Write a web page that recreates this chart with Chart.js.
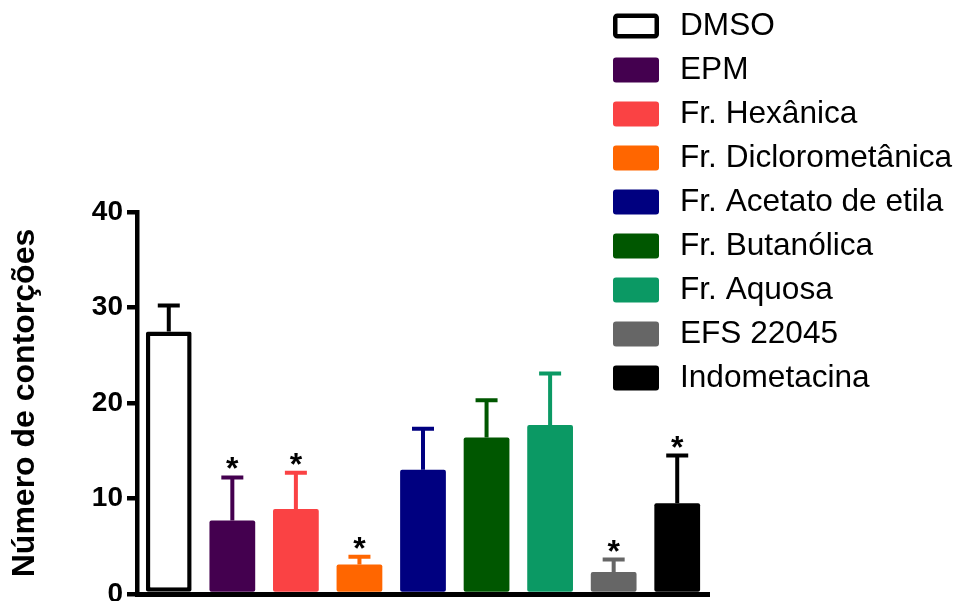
<!DOCTYPE html>
<html lang="pt">
<head>
<meta charset="utf-8">
<title>Número de contorções</title>
<script src="https://cdn.jsdelivr.net/npm/chart.js@4.4.1/dist/chart.umd.min.js"></script>
<style>
  html, body { margin: 0; padding: 0; background: #ffffff; }
  canvas { display: block; }
</style>
</head>
<body>
<canvas id="chart" width="957" height="601"></canvas>
<script>
// Grupos tratados e número médio de contorções (média ± EPM)
const groups = ['DMSO', 'EPM', 'Fr. Hexânica', 'Fr. Diclorometânica', 'Fr. Acetato de etila',
                'Fr. Butanólica', 'Fr. Aquosa', 'EFS 22045', 'Indometacina'];
const meanWrithes = [27.5, 7.7, 8.9, 3.1, 13.0, 16.4, 17.7, 2.3, 9.5];
const semWrithes  = [2.7, 4.5, 3.8, 0.8, 4.3, 3.9, 5.4, 1.3, 5.0];
const significant = [false, true, true, true, false, false, false, true, true];
const yTicks = [0, 10, 20, 30, 40];

const fillColors = ['#ffffff', '#44004f', '#fa4244', '#ff6600', '#000080',
                    '#005700', '#0b9964', '#666666', '#000000'];
const lineColors = ['#000000', '#44004f', '#fa4244', '#ff6600', '#000080',
                    '#005700', '#0b9964', '#666666', '#000000'];

const FONT = "'Liberation Sans', Arial, Helvetica, sans-serif";

// Barras de erro (apenas para cima) e asteriscos de significância
const errorBars = {
  id: 'errorBars',
  afterDatasetsDraw(chart) {
    const { ctx, scales: { y } } = chart;
    const meta = chart.getDatasetMeta(0);
    ctx.save();
    meta.data.forEach((bar, i) => {
      const base = y.getPixelForValue(meanWrithes[i]);
      const top = y.getPixelForValue(meanWrithes[i] + semWrithes[i]);
      ctx.strokeStyle = lineColors[i];
      ctx.lineWidth = 4;
      ctx.lineCap = 'butt';
      ctx.beginPath();
      ctx.moveTo(bar.x, base);
      ctx.lineTo(bar.x, top);
      ctx.moveTo(bar.x - 11, top);
      ctx.lineTo(bar.x + 11, top);
      ctx.stroke();
      if (significant[i]) {
        ctx.font = 'bold 32px ' + FONT;
        ctx.fillStyle = '#000000';
        ctx.textAlign = 'center';
        ctx.textBaseline = 'alphabetic';
        const m = ctx.measureText('*');
        const a = m.actualBoundingBoxAscent, d = m.actualBoundingBoxDescent;
        const centre = top - 14;
        ctx.fillText('*', bar.x, centre + (a - d) / 2);
      }
    });
    ctx.restore();
  }
};

// Legenda à direita, uma linha por grupo
const groupLegend = {
  id: 'groupLegend',
  afterDraw(chart) {
    const { ctx } = chart;
    const ds = chart.data.datasets[0];
    ctx.save();
    chart.data.labels.forEach((label, i) => {
      const top = 13.5 + i * 44;
      const left = 613, w = 46, h = 25;
      if (i === 0) {
        ctx.fillStyle = '#ffffff';
        ctx.strokeStyle = '#000000';
        ctx.lineWidth = 4.5;
        ctx.beginPath();
        ctx.roundRect(left + 2.25, top + 2.25, w - 4.5, h - 4.5, 2);
        ctx.fill();
        ctx.stroke();
      } else {
        ctx.fillStyle = ds.backgroundColor[i];
        ctx.beginPath();
        ctx.roundRect(left, top, w, h, 3);
        ctx.fill();
      }
      ctx.fillStyle = '#000000';
      ctx.font = '31.6px ' + FONT;
      ctx.textAlign = 'left';
      ctx.textBaseline = 'middle';
      ctx.fillText(label, 680, top + h / 2 + 0.5);
    });
    ctx.restore();
  }
};

new Chart(document.getElementById('chart'), {
  type: 'bar',
  data: {
    labels: groups,
    datasets: [{
      data: meanWrithes,
      backgroundColor: fillColors,
      borderColor: lineColors,
      borderWidth: [4.5, 0, 0, 0, 0, 0, 0, 0, 0],
      borderSkipped: false,
      borderRadius: 2,
      barPercentage: 0.72,
      categoryPercentage: 1
    }]
  },
  options: {
    responsive: false,
    devicePixelRatio: 1,
    animation: false,
    events: [],
    layout: { padding: { top: 212, right: 248, bottom: 0, left: 0 } },
    plugins: {
      legend: { display: false },
      tooltip: { enabled: false }
    },
    scales: {
      x: {
        afterFit(s) { s.height = 7; s.paddingLeft = 0; s.paddingRight = 0; },
        border: { display: true, color: '#000000', width: 5 },
        grid: { display: false },
        ticks: { display: false }
      },
      y: {
        min: 0,
        max: 40,
        afterBuildTicks(s) { s.ticks = yTicks.map(v => ({ value: v })); },
        afterFit(s) { s.width = 137; s.paddingTop = 0; s.paddingBottom = 0; },
        border: { display: true, color: '#000000', width: 4.5 },
        grid: {
          display: true,
          drawOnChartArea: false,
          drawTicks: true,
          tickLength: 10,
          lineWidth: 4.5,
          color: '#000000'
        },
        ticks: {
          color: '#000000',
          padding: 4,
          font: { family: FONT, size: 28, weight: 'bold' }
        },
        title: {
          display: true,
          text: 'Número de contorções',
          color: '#000000',
          padding: { top: 6, bottom: 0 },
          font: { family: FONT, size: 32, weight: 'bold' }
        }
      }
    }
  },
  plugins: [errorBars, groupLegend]
});
</script>
</body>
</html>
